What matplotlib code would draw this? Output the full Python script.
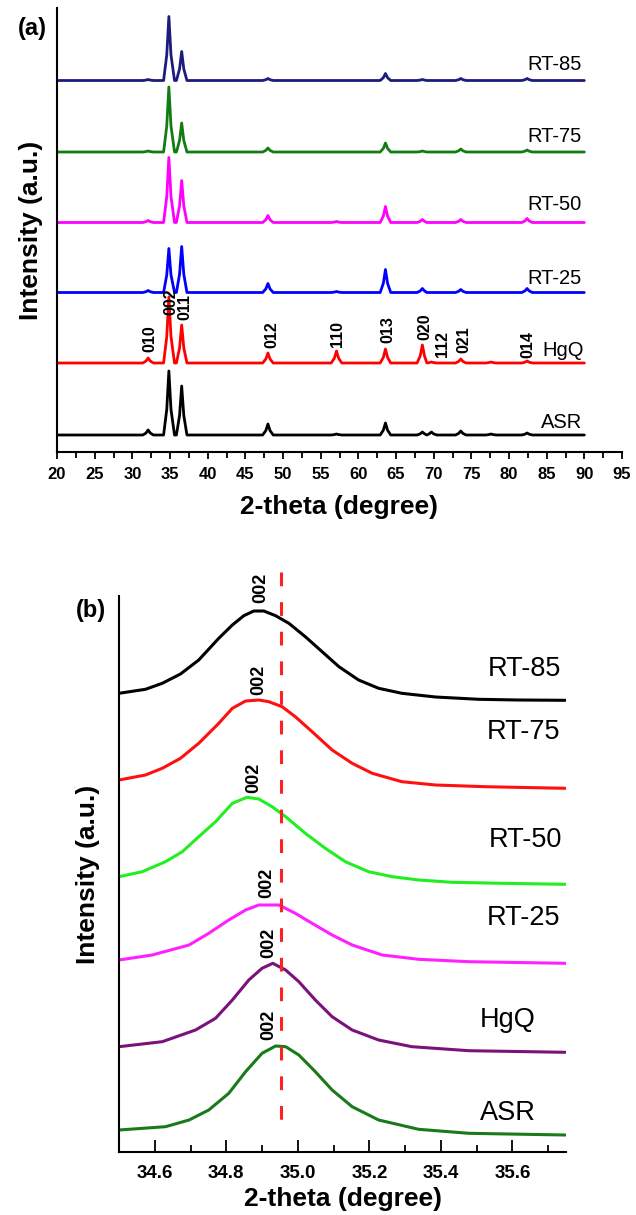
import matplotlib
matplotlib.use('Agg')
import matplotlib.pyplot as plt
from matplotlib.ticker import MultipleLocator

plt.rcParams['font.family'] = ['Liberation Sans', 'DejaVu Sans']

# ---------------- Panel (a) data ----------------
two_theta_a = [20,
               31.4, 31.82, 32.1, 32.38, 32.8,
               34.15, 34.57, 34.85, 35.13, 35.6,
               35.85, 36.27, 36.55, 36.83, 37.25,
               47.3, 47.72, 48.0, 48.28, 48.7,
               56.4, 56.82, 57.1, 57.38, 57.8,
               62.9, 63.32, 63.6, 63.88, 64.3,
               67.8, 68.22, 68.5, 68.78, 69.1,
               69.42, 69.7, 69.98, 70.4,
               72.9, 73.32, 73.6, 73.88, 74.3,
               76.9, 77.32, 77.6, 77.88, 78.3,
               81.7, 82.12, 82.4, 82.68, 83.1,
               90]

int_rt85 = [0, 0, 0.4, 1, 0.4, 0, 0, 25.6, 64, 25.6, 0, 0, 11.6, 29, 11.6, 0,
            0, 0.8, 2, 0.8, 0, 0, 0, 0, 0, 0, 0, 2.8, 7, 2.8, 0, 0, 0.4, 1, 0.4, 0,
            0, 0, 0, 0, 0, 0.8, 2, 0.8, 0, 0, 0, 0, 0, 0, 0, 0.8, 2, 0.8, 0, 0]
int_rt75 = [0, 0, 0.4, 1, 0.4, 0, 0, 26, 65, 26, 0, 0, 11.6, 29, 11.6, 0,
            0, 1.6, 4, 1.6, 0, 0, 0, 0, 0, 0, 0, 3.6, 9, 3.6, 0, 0, 0.4, 1, 0.4, 0,
            0, 0, 0, 0, 0, 1.2, 3, 1.2, 0, 0, 0, 0, 0, 0, 0, 0.8, 2, 0.8, 0, 0]
int_rt50 = [0, 0, 0.8, 2, 0.8, 0, 0, 26, 65, 26, 0, 0, 16.8, 42, 16.8, 0,
            0, 2.8, 7, 2.8, 0, 0, 0.4, 1, 0.4, 0, 0, 6.4, 16, 6.4, 0, 0, 1.2, 3, 1.2, 0,
            0, 0, 0, 0, 0, 1.2, 3, 1.2, 0, 0, 0, 0, 0, 0, 0, 1.6, 4, 1.6, 0, 0]
int_rt25 = [0, 0, 0.8, 2, 0.8, 0, 0, 17.6, 44, 17.6, 0, 0, 18.4, 46, 18.4, 0,
            0, 3.6, 9, 3.6, 0, 0, 0.4, 1, 0.4, 0, 0, 9.2, 23, 9.2, 0, 0, 1.6, 4, 1.6, 0,
            0, 0, 0, 0, 0, 1.2, 3, 1.2, 0, 0, 0, 0, 0, 0, 0, 1.6, 4, 1.6, 0, 0]
int_hgq = [0, 0, 2, 5, 2, 0, 0, 26.4, 66, 26.4, 0, 0, 15.2, 38, 15.2, 0,
           0, 4, 10, 4, 0, 0, 4.8, 12, 4.8, 0, 0, 5.6, 14, 5.6, 0, 0, 7.2, 18, 7.2, 0,
           0.4, 1, 0.4, 0, 0, 1.6, 4, 1.6, 0, 0, 0.4, 1, 0.4, 0, 0, 0.8, 2, 0.8, 0, 0]
int_asr = [0, 0, 2, 5, 2, 0, 0, 25.6, 64, 25.6, 0, 0, 19.6, 49, 19.6, 0,
           0, 4.4, 11, 4.4, 0, 0, 0.4, 1, 0.4, 0, 0, 4.8, 12, 4.8, 0, 0, 1.2, 3, 1.2, 0,
           1.2, 3, 1.2, 0, 0, 1.6, 4, 1.6, 0, 0, 0.4, 1, 0.4, 0, 0, 0.8, 2, 0.8, 0, 0]

names_a = ['RT-85', 'RT-75', 'RT-50', 'RT-25', 'HgQ', 'ASR']
series_a = [int_rt85, int_rt75, int_rt50, int_rt25, int_hgq, int_asr]
offsets_a = [371.5, 300, 229.5, 159.5, 89, 17]
colors_a = ['#1c1c7c', '#117d11', '#ff00ff', '#0000ff', '#ff0000', '#000000']

miller_a = ['010', '002', '011', '012', '110', '013', '020', '112', '021', '014']
miller_a_x = [32.35, 35.05, 36.95, 48.5, 57.3, 63.95, 68.8, 71.15, 73.95, 82.45]
miller_a_y = [100, 137, 132, 104, 105, 109, 112, 95, 99, 94]

# ---------------- Panel (b) data ----------------
x_rt85 = [34.5, 34.574, 34.621, 34.672, 34.723, 34.779, 34.817, 34.849, 34.877, 34.905, 34.938,
          34.975, 35.021, 35.068, 35.115, 35.170, 35.226, 35.291, 35.385, 35.506, 35.617, 35.748]
y_rt85 = [458.7, 462.7, 468.7, 478, 492, 513.7, 527, 536.3, 541, 541, 536.3,
          528.7, 515.3, 500.3, 485.3, 472, 463.7, 458.7, 455, 452.7, 452, 451.7]
x_rt75 = [34.5, 34.574, 34.621, 34.672, 34.723, 34.779, 34.817, 34.854, 34.891, 34.919,
          34.956, 34.993, 35.040, 35.096, 35.152, 35.208, 35.291, 35.385, 35.524, 35.748]
y_rt75 = [372, 377, 383.7, 393.7, 408.7, 428.7, 443.7, 451, 452, 450.3,
          445.3, 435.3, 420.3, 402, 388.7, 378.7, 370.3, 367, 365.3, 363.7]
x_rt50 = [34.5, 34.565, 34.630, 34.677, 34.723, 34.770, 34.817, 34.858, 34.891, 34.928,
          34.966, 35.021, 35.077, 35.133, 35.198, 35.264, 35.338, 35.431, 35.571, 35.748]
y_rt50 = [275.3, 280.3, 290.3, 300.3, 315.3, 330.3, 348.7, 354.7, 353, 345.3,
          335.3, 318.7, 303.7, 290.3, 280.3, 275.3, 272, 269.7, 268.7, 267.7]
x_rt25 = [34.5, 34.593, 34.696, 34.751, 34.807, 34.854, 34.891, 34.947, 34.993, 35.040,
          35.096, 35.152, 35.236, 35.338, 35.478, 35.748]
y_rt25 = [192, 197, 207, 218.7, 232, 242, 247, 247, 238.7, 228.7,
          217, 207, 197, 192.7, 190.3, 188.7]
x_hgq = [34.5, 34.621, 34.714, 34.770, 34.817, 34.863, 34.900, 34.930, 34.966, 35.003,
         35.049, 35.096, 35.152, 35.226, 35.319, 35.478, 35.748]
y_hgq = [105.3, 110.3, 122, 133.7, 152, 172, 183.7, 188.7, 182, 170.3,
         152, 135.3, 122, 112, 105.3, 101.3, 99.7]
x_asr = [34.5, 34.630, 34.696, 34.751, 34.807, 34.854, 34.900, 34.938, 34.966, 35.003,
         35.049, 35.096, 35.152, 35.226, 35.338, 35.478, 35.748]
y_asr = [22, 25.3, 32, 42, 58.7, 80.3, 98.7, 106, 105.3, 97,
         80.3, 62, 45.3, 32, 22.7, 18.7, 17]

names_b = ['RT-85', 'RT-75', 'RT-50', 'RT-25', 'HgQ', 'ASR']
xs_b = [x_rt85, x_rt75, x_rt50, x_rt25, x_hgq, x_asr]
ys_b = [y_rt85, y_rt75, y_rt50, y_rt25, y_hgq, y_asr]
colors_b = ['#000000', '#ff1010', '#22ee22', '#ff20ff', '#7a127a', '#1a7a1a']
label_b_x = [35.735, 35.735, 35.738, 35.735, 35.665, 35.665]
label_b_y = [483, 420, 312, 234, 132, 39]
peak002_x = [34.896, 34.891, 34.877, 34.914, 34.919, 34.919]
peak002_y = [549, 457, 359, 254, 194, 112]
ref_line_x = 34.952

# ---------------- Figure ----------------
fig = plt.figure(figsize=(6.36, 12.15), dpi=100)
W, H = 636.0, 1215.0

# Panel (a)
axa = fig.add_axes([57 / W, 1 - 452 / H, (622 - 57) / W, (452 - 8) / H])
for name, ser, off, col in zip(names_a, series_a, offsets_a, colors_a):
    axa.plot(two_theta_a, [v + off for v in ser], color=col, lw=2.0,
             solid_joinstyle='round', solid_capstyle='round')
label_a_y = [387, 316, 247, 174, 101, 29]
label_a_x = [89.6, 89.6, 89.6, 89.6, 90.0, 89.7]
for name, lx, ly in zip(names_a, label_a_x, label_a_y):
    axa.text(lx, ly, name, ha='right', va='center', fontsize=14.5)
for m, mx, my in zip(miller_a, miller_a_x, miller_a_y):
    axa.text(mx, my, m, rotation=90, ha='center', va='bottom', fontsize=11.5, fontweight='bold')
axa.set_xlim(20, 95)
axa.set_ylim(0, 444)
axa.xaxis.set_major_locator(MultipleLocator(5))
axa.xaxis.set_minor_locator(MultipleLocator(2.5))
axa.tick_params(axis='x', which='major', direction='out', length=5, width=1.3, labelsize=12, pad=6)
axa.tick_params(axis='x', which='minor', direction='out', length=4, width=1.3)
axa.set_yticks([])
for s in ['top', 'right']:
    axa.spines[s].set_visible(False)
for s in ['left', 'bottom']:
    axa.spines[s].set_linewidth(1.5)
for lab in axa.get_xticklabels():
    lab.set_fontweight('bold')
axa.set_xlabel('2-theta (degree)', fontsize=19, fontweight='bold', labelpad=9)
axa.set_ylabel('Intensity (a.u.)', fontsize=19, fontweight='bold', labelpad=10)
fig.text(32 / W, 1 - 28 / H, '(a)', fontsize=17, fontweight='bold', ha='center', va='center')

# Panel (b)
axb = fig.add_axes([119 / W, 1 - 1152 / H, (566 - 119) / W, (1152 - 596) / H])
for xx, yy, col in zip(xs_b, ys_b, colors_b):
    axb.plot(xx, yy, color=col, lw=2.2, solid_joinstyle='round', solid_capstyle='round')
for name, lx, ly in zip(names_b, label_b_x, label_b_y):
    axb.text(lx, ly, name, ha='right', va='center', fontsize=19.5)
for px, py in zip(peak002_x, peak002_y):
    axb.text(px, py, '002', rotation=90, ha='center', va='bottom', fontsize=13, fontweight='bold')
axb.plot([ref_line_x, ref_line_x], [580, 32], color='#ff2020', lw=2.2,
         linestyle=(0, (4.5, 5.2)), clip_on=False)
axb.set_xlim(34.5, 35.75)
axb.set_ylim(0, 556)
axb.xaxis.set_major_locator(MultipleLocator(0.2))
axb.xaxis.set_minor_locator(MultipleLocator(0.1))
axb.tick_params(axis='x', which='major', direction='in', length=9, width=1.3, labelsize=13.5, pad=9)
axb.tick_params(axis='x', which='minor', direction='in', length=5, width=1.3)
axb.set_yticks([])
for s in ['top', 'right']:
    axb.spines[s].set_visible(False)
for s in ['left', 'bottom']:
    axb.spines[s].set_linewidth(1.5)
for lab in axb.get_xticklabels():
    lab.set_fontweight('bold')
axb.set_xlabel('2-theta (degree)', fontsize=19, fontweight='bold', labelpad=4)
axb.set_ylabel('Intensity (a.u.)', fontsize=19, fontweight='bold', labelpad=14)
fig.text(91 / W, 1 - 611 / H, '(b)', fontsize=17, fontweight='bold', ha='center', va='center')

fig.savefig('out.png', dpi=100, facecolor='white')
